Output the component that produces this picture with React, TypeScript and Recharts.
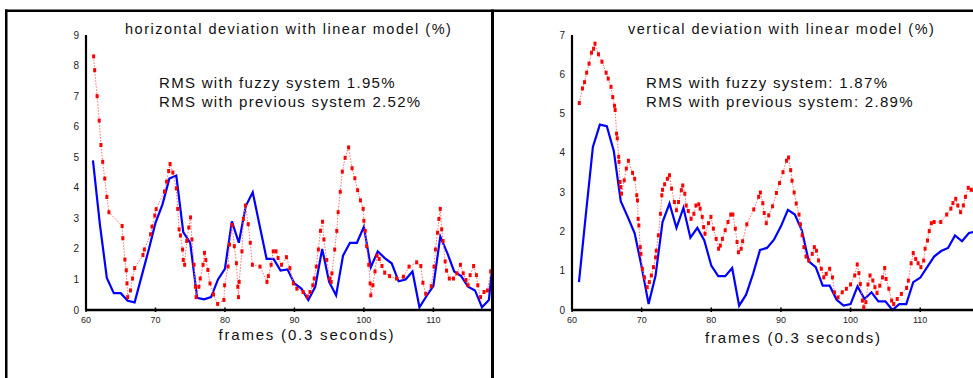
import { LineChart, Line, XAxis, YAxis } from "recharts";

const FONT = "'Liberation Sans', Arial, Helvetica, sans-serif";

const X_TICKS = [60, 70, 80, 90, 100, 110];
const X_DOMAIN: [number, number] = [60, 118.3];

// horizontal deviation, fuzzy system: one value per frame from frame 61
const hFuzzyStart = 61;
const hFuzzy = [
  4.9, 2.8, 1.05, 0.55, 0.55, 0.3, 0.25, 1.1, 1.95, 2.85, 3.45, 4.3, 4.4, 2.55,
  2.2, 0.4, 0.35, 0.42, 1.0, 1.35, 2.9, 2.2, 3.4, 3.85, 2.76, 1.67, 1.67, 1.29,
  1.33, 0.87, 0.7, 0.33, 0.76, 2.0, 0.92, 0.48, 1.78, 2.2, 2.2, 2.72, 1.4, 1.92,
  1.7, 1.53, 0.94, 1.0, 1.26, 0.09, 0.45, 0.78, 2.4, 1.87, 1.26, 1.11, 0.76,
  0.64, 0.09, 0.33, 2.6,
];

// horizontal deviation, previous system (sampled finer than a frame)
const hPrevFrames = [
  61.1, 61.25, 61.6, 61.9, 62.15, 62.4, 62.7, 63.0, 63.3, 65.2, 65.3, 65.6, 65.8,
  65.9, 66.0, 66.4, 66.7, 67.0, 68.2, 68.4, 69.3, 69.5, 69.9, 70.1, 71.3, 71.6,
  71.9, 72.1, 72.5, 73.0, 73.2, 73.4, 73.6, 73.9, 74.0, 74.2, 74.5, 74.8, 75.05,
  75.25, 75.55, 75.75, 75.85, 76.25, 76.45, 76.85, 77.05, 77.25, 77.55, 77.85,
  78.35, 78.95, 79.85, 79.95, 80.45, 80.65, 81.05, 81.35, 81.65, 81.85, 81.95,
  82.05, 82.45, 82.65, 82.95, 83.35, 83.65, 83.95, 85.05, 86.05, 86.25, 86.65,
  86.95, 87.35, 87.65, 88.15, 88.85, 89.35, 89.85, 90.35, 91.25, 91.85, 92.25,
  92.65, 92.85, 93.15, 93.45, 93.75, 94.05, 94.25, 94.65, 95.1, 95.3, 95.4, 95.8,
  96.1, 96.3, 96.6, 96.9, 97.3, 97.8, 98.3, 98.7, 99.1, 99.5, 99.9, 100.0, 100.2,
  100.4, 100.7, 100.9, 101.0, 101.3, 101.6, 101.9, 102.2, 102.6, 103.0, 103.7,
  104.7, 105.7, 106.5, 107.6, 108.2, 108.5, 108.9, 109.7, 110.1, 110.3, 110.6,
  110.8, 111.0, 111.2, 111.4, 111.7, 111.9, 112.3, 112.9, 113.4, 113.9, 114.3,
  114.7, 115.0, 115.3, 115.8, 116.2, 116.4, 116.8, 117.3, 117.8, 118.25, 118.6,
];
const hPrevValues = [
  8.3, 7.85, 7.0, 6.2, 5.4, 4.85, 4.3, 3.7, 3.2, 2.75, 2.35, 1.65, 1.3, 0.87,
  0.42, 0.64, 1.03, 1.37, 1.8, 1.98, 2.48, 2.73, 3.09, 3.3, 3.88, 4.2, 4.55,
  4.78, 4.5, 3.98, 3.31, 2.64, 2.44, 1.98, 1.64, 1.48, 2.26, 2.7, 3.03, 2.31,
  1.48, 0.76, 0.42, 0.76, 1.03, 1.48, 1.87, 1.64, 1.31, 0.87, 0.51, 0.2, 0.33,
  0.81, 1.42, 2.14, 2.78, 2.09, 1.53, 0.76, 0.42, 0.92, 1.92, 2.98, 3.42, 2.81,
  2.2, 1.48, 1.42, 0.92, 1.11, 1.48, 1.92, 1.92, 1.7, 1.48, 1.73, 1.37, 0.87,
  0.7, 0.59, 0.44, 0.59, 0.81, 1.03, 1.42, 1.98, 2.59, 2.89, 2.31, 1.64, 1.03,
  0.92, 1.2, 1.98, 2.59, 3.2, 3.87, 4.53, 4.98, 5.32, 4.64, 4.31, 3.92, 3.59,
  3.31, 2.92, 2.59, 2.09, 1.48, 0.87, 0.48, 0.81, 1.26, 1.78, 1.67, 1.44, 1.22,
  1.11, 1.03, 1.09, 1.42, 1.56, 1.44, 0.89, 0.53, 0.78, 1.42, 1.98, 2.53, 2.98,
  3.31, 2.64, 2.26, 1.59, 1.29, 1.03, 1.03, 1.2, 1.48, 1.2, 0.98, 0.81, 1.14,
  1.44, 1.14, 0.81, 0.42, 0.59, 0.64, 1.26, 1.8,
];

// vertical deviation, fuzzy system: one value per frame from frame 61
const vFuzzyStart = 61;
const vFuzzy = [
  0.71, 2.45, 4.15, 4.72, 4.68, 4.05, 2.77, 2.37, 1.95, 1.1, 0.15, 0.88, 2.24,
  2.71, 2.09, 2.6, 1.84, 2.09, 1.77, 1.13, 0.86, 0.86, 1.07, 0.11, 0.39, 0.92,
  1.53, 1.58, 1.79, 2.13, 2.55, 2.43, 2.03, 1.24, 1.09, 0.62, 0.62, 0.26, 0.11,
  0.15, 0.6, 0.28, 0.45, 0.22, 0.22, 0.0, 0.15, 0.15, 0.71, 0.82, 1.09, 1.36,
  1.5, 1.58, 1.9, 1.75, 1.96, 2.0,
];

// vertical deviation, previous system
const vPrevFrames = [
  61.05, 61.5, 61.8, 62.1, 62.45, 62.8, 63.1, 63.3, 63.8, 64.3, 64.9, 65.2, 65.6,
  65.85, 66.1, 66.2, 66.4, 66.5, 66.7, 66.75, 66.9, 67.0, 67.1, 67.5, 67.8, 68.1,
  68.7, 69.0, 69.3, 69.4, 69.5, 69.6, 69.8, 69.9, 70.1, 70.4, 70.8, 71.1, 71.4,
  71.7, 72.0, 72.1, 72.4, 72.7, 72.9, 73.0, 73.3, 73.7, 74.0, 74.3, 74.7, 75.0,
  75.3, 75.7, 75.9, 76.2, 76.4, 76.7, 77.1, 77.5, 77.8, 78.2, 78.4, 78.7, 78.9,
  79.1, 79.6, 79.95, 80.3, 80.7, 81.05, 81.3, 81.6, 82.0, 82.4, 82.8, 83.1,
  83.45, 83.7, 83.9, 84.3, 84.5, 85.1, 86.1, 86.8, 87.05, 87.4, 87.6, 87.9,
  88.25, 88.8, 89.35, 89.8, 90.3, 90.8, 91.1, 91.4, 91.6, 91.9, 92.2, 92.6, 92.8,
  93.05, 93.3, 93.6, 94.0, 94.5, 94.8, 95.1, 95.4, 95.8, 96.15, 96.5, 97.0, 97.4,
  97.7, 98.2, 98.8, 99.4, 100.0, 100.6, 100.96, 101.2, 101.4, 101.7, 101.9, 102.2,
  102.5, 102.8, 103.2, 103.5, 103.8, 104.2, 104.6, 104.9, 105.1, 105.5, 105.9,
  106.2, 106.7, 107.3, 108.05, 108.3, 108.7, 109.0, 109.35, 109.7, 110.1, 110.5,
  110.7, 111.05, 111.3, 111.6, 112.0, 112.95, 113.8, 114.4, 114.7, 115.1, 115.4,
  115.8, 116.2, 116.5, 116.9, 117.3, 117.7,
];
const vPrevValues = [
  5.27, 5.64, 5.8, 6.04, 6.27, 6.55, 6.65, 6.78, 6.51, 6.32, 6.04, 5.89, 5.68,
  5.42, 5.2, 5.09, 4.49, 4.37, 3.9, 3.77, 3.26, 3.13, 2.96, 3.3, 3.6, 3.8, 3.49,
  3.34, 2.92, 2.79, 2.32, 2.15, 1.6, 1.43, 1.05, 0.83, 0.58, 0.71, 0.88, 1.09,
  1.34, 1.51, 1.9, 2.45, 2.92, 3.06, 3.2, 3.34, 3.43, 3.09, 2.75, 2.54, 2.75,
  3.05, 3.17, 2.96, 2.66, 2.52, 2.32, 2.45, 2.66, 2.69, 2.58, 2.37, 2.11, 1.94,
  2.21, 2.37, 2.07, 1.81, 1.56, 1.64, 1.81, 2.03, 2.24, 2.43, 2.43, 2.07, 1.73,
  1.47, 1.56, 1.75, 2.18, 2.56, 2.88, 2.99, 2.72, 2.47, 2.21, 2.41, 2.64, 2.98,
  3.23, 3.51, 3.8, 3.88, 3.56, 3.29, 2.99, 2.71, 2.43, 2.18, 1.9, 1.6, 1.36,
  1.26, 1.43, 1.6, 1.51, 1.26, 1.05, 0.83, 0.92, 1.05, 0.83, 0.45, 0.32, 0.45,
  0.54, 0.65, 0.88, 1.16, 0.94, 0.66, 0.24, 0.07, 0.2, 0.65, 0.88, 0.75, 0.58,
  0.43, 0.62, 0.83, 1.07, 0.79, 0.54, 0.24, 0.15, 0.28, 0.41, 0.56, 0.75, 1.19,
  1.45, 1.3, 1.19, 1.09, 1.26, 1.56, 1.77, 2.01, 2.21, 2.24, 2.24, 2.43, 2.58,
  2.72, 2.83, 2.66, 2.49, 2.66, 2.88, 3.11, 3.06, 3.06,
];

const perFrame = (start: number, values: number[]) =>
  values.map((v, i) => ({ f: start + i, v }));
const pairs = (frames: number[], values: number[]) =>
  frames.map((f, i) => ({ f, v: values[i] }));

function TopTick(props: any) {
  const { x, y } = props;
  return <line x1={x} x2={x} y1={y} y2={y + 3.5} stroke="#000" strokeWidth={1.5} />;
}

function BottomTick(props: any) {
  const { x, y, payload } = props;
  return (
    <g>
      <line x1={x} x2={x} y1={y} y2={y - 4.5} stroke="#000" strokeWidth={1.5} />
      <text x={x} y={y + 11} textAnchor="middle" fontSize={9} fill="#222" fontFamily={FONT}>
        {payload.value}
      </text>
    </g>
  );
}

function LeftTick(props: any) {
  const { x, y, payload } = props;
  return (
    <text x={x - 5} y={y + 3.5} textAnchor="end" fontSize={10} fill="#222" fontFamily={FONT}>
      {payload.value}
    </text>
  );
}

function SquareDot(props: any) {
  const { cx, cy } = props;
  if (cx == null || cy == null) return <g />;
  return <rect x={cx - 1.5} y={cy - 2} width={3} height={4} fill="#ff0000" />;
}

type PanelProps = {
  left: number;
  axisWidth: number;
  rightMargin: number;
  yMax: number;
  fuzzy: { f: number; v: number }[];
  prev: { f: number; v: number }[];
};

function Panel({ left, axisWidth, rightMargin, yMax, fuzzy, prev }: PanelProps) {
  const yTicks = Array.from({ length: yMax + 1 }, (_, i) => i);
  return (
    <div style={{ position: "absolute", left, top: 0 }}>
      <LineChart
        width={500}
        height={378}
        margin={{ top: 35, right: rightMargin, bottom: 38, left: 0 }}
      >
        <XAxis
          xAxisId="top"
          orientation="top"
          type="number"
          dataKey="f"
          domain={X_DOMAIN}
          allowDataOverflow
          ticks={X_TICKS}
          height={0}
          tickSize={0}
          tickLine={false}
          tick={<TopTick />}
          axisLine={{ stroke: "#000", strokeWidth: 1.6 }}
        />
        <XAxis
          type="number"
          dataKey="f"
          domain={X_DOMAIN}
          allowDataOverflow
          ticks={X_TICKS}
          height={30}
          tickSize={0}
          tickLine={false}
          tick={<BottomTick />}
          axisLine={{ stroke: "#000", strokeWidth: 2.6 }}
        />
        <YAxis
          type="number"
          domain={[0, yMax]}
          ticks={yTicks}
          width={axisWidth}
          tickSize={0}
          tickLine={false}
          tick={<LeftTick />}
          axisLine={{ stroke: "#000", strokeWidth: 2.2 }}
        />
        <Line
          data={fuzzy}
          dataKey="v"
          type="linear"
          stroke="#0000ff"
          strokeWidth={2.2}
          dot={false}
          isAnimationActive={false}
        />
        <Line
          data={prev}
          dataKey="v"
          type="linear"
          stroke="#ff7070"
          strokeWidth={1}
          strokeDasharray="1.5 1.5"
          dot={<SquareDot />}
          isAnimationActive={false}
        />
      </LineChart>
    </div>
  );
}

const textStyle = { fontFamily: FONT, fill: "#111" } as const;

export default function App() {
  return (
    <div
      style={{
        position: "absolute",
        left: 0,
        top: 0,
        width: 973,
        height: 378,
        overflow: "hidden",
        background: "#fff",
      }}
    >
      <Panel
        left={0}
        axisWidth={86}
        rightMargin={9}
        yMax={9}
        fuzzy={perFrame(hFuzzyStart, hFuzzy)}
        prev={pairs(hPrevFrames, hPrevValues)}
      />
      <Panel
        left={492}
        axisWidth={80}
        rightMargin={14}
        yMax={7}
        fuzzy={perFrame(vFuzzyStart, vFuzzy)}
        prev={pairs(vPrevFrames, vPrevValues)}
      />
      <svg
        width={973}
        height={378}
        style={{ position: "absolute", left: 0, top: 0, pointerEvents: "none" }}
      >
        <rect x={5} y={9.5} width={968} height={2.5} fill="#000" />
        <rect x={5} y={9.5} width={2.5} height={370} fill="#000" />
        <rect x={491} y={9.5} width={3} height={370} fill="#000" />

        <text x={125} y={33.5} fontSize={14.5} letterSpacing={1.5} {...textStyle}>
          horizontal deviation with linear model (%)
        </text>
        <text x={159} y={88} fontSize={15} letterSpacing={1.3} {...textStyle}>
          RMS with fuzzy system 1.95%
        </text>
        <text x={159} y={106.5} fontSize={15} letterSpacing={1.3} {...textStyle}>
          RMS with previous system 2.52%
        </text>
        <text x={218.5} y={339.5} fontSize={15} letterSpacing={1.8} {...textStyle}>
          frames (0.3 seconds)
        </text>

        <text x={628} y={33.5} fontSize={14.5} letterSpacing={1.5} {...textStyle}>
          vertical deviation with linear model (%)
        </text>
        <text x={646} y={88} fontSize={15} letterSpacing={1.3} {...textStyle}>
          RMS with fuzzy system: 1.87%
        </text>
        <text x={646} y={106.5} fontSize={15} letterSpacing={1.3} {...textStyle}>
          RMS with previous system: 2.89%
        </text>
        <text x={705} y={343} fontSize={15} letterSpacing={1.8} {...textStyle}>
          frames (0.3 seconds)
        </text>
      </svg>
    </div>
  );
}
